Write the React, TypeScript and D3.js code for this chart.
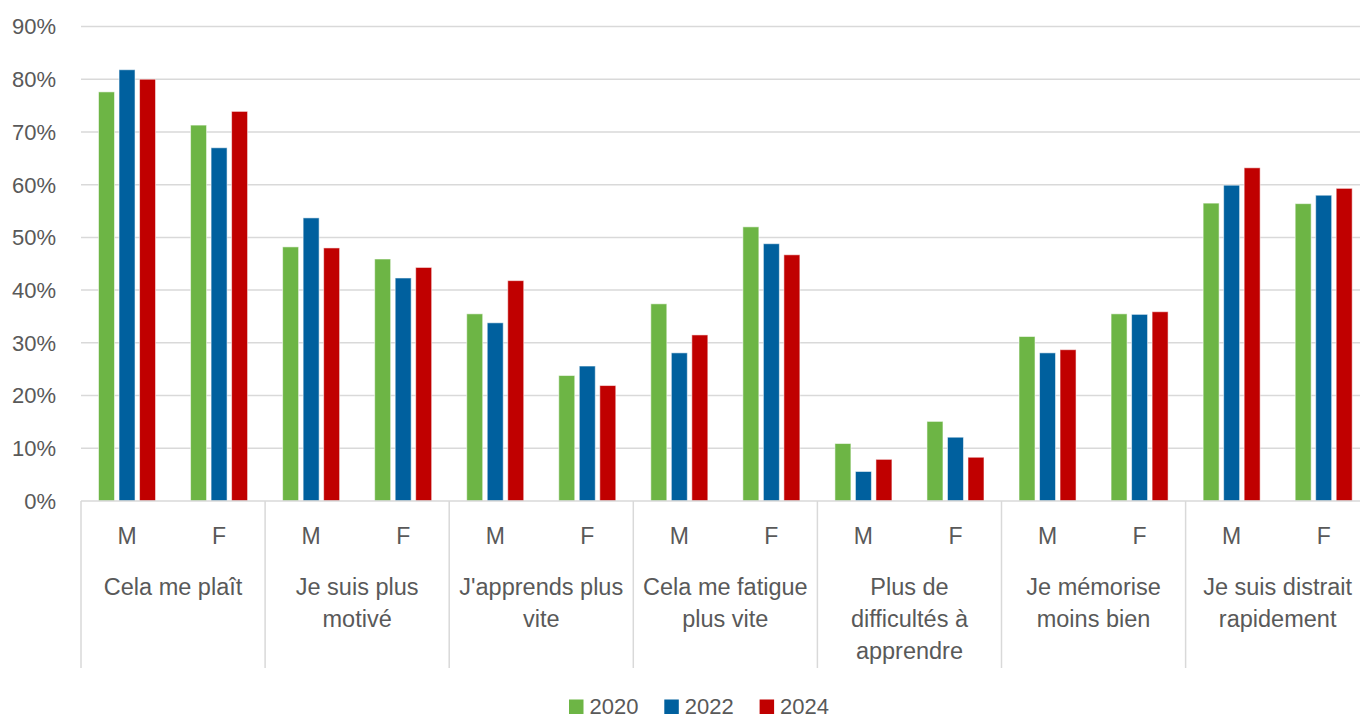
import React from "react";
import * as d3 from "d3";

const categories: string[][] = [
  ["Cela me plaît"],
  ["Je suis plus", "motivé"],
  ["J'apprends plus", "vite"],
  ["Cela me fatigue", "plus vite"],
  ["Plus de", "difficultés à", "apprendre"],
  ["Je mémorise", "moins bien"],
  ["Je suis distrait", "rapidement"],
];
const sexes = ["M", "F"];
const years = ["2020", "2022", "2024"];
const colors = ["#6DB545", "#00609E", "#C00000"];

// values per category, in %
const values2020M = [77.6, 48.2, 35.5, 37.4, 10.9, 31.2, 56.5];
const values2022M = [81.8, 53.7, 33.8, 28.1, 5.6, 28.1, 59.9];
const values2024M = [80.0, 48.0, 41.8, 31.5, 7.9, 28.7, 63.2];
const values2020F = [71.3, 45.9, 23.8, 52.0, 15.1, 35.5, 56.4];
const values2022F = [67.0, 42.3, 25.6, 48.8, 12.1, 35.4, 58.0];
const values2024F = [73.9, 44.3, 21.9, 46.7, 8.3, 35.9, 59.3];
const yTicks = [0, 10, 20, 30, 40, 50, 60, 70, 80, 90];

const seriesM = [values2020M, values2022M, values2024M];
const seriesF = [values2020F, values2022F, values2024F];

export default function App() {
  const W = 1360;
  const H = 717;
  const left = 81;
  const catW = 184.1;
  const right = left + catW * categories.length;
  const y0 = 501;
  const y90 = 26.5;

  const x0 = d3
    .scaleBand<number>()
    .domain(d3.range(categories.length))
    .range([left, right])
    .padding(0);
  const x1 = d3.scaleBand<string>().domain(sexes).range([0, x0.bandwidth()]).padding(0);
  const x2 = d3
    .scaleBand<string>()
    .domain(years)
    .range([0, x1.bandwidth()])
    .paddingInner(0.22)
    .paddingOuter(0.854);
  const y = d3.scaleLinear().domain([0, 90]).range([y0, y90]);

  const grey = "#d9d9d9";
  const txt = "#595959";

  const bars: React.ReactNode[] = [];
  categories.forEach((_, ci) => {
    sexes.forEach((s) => {
      const ser = s === "M" ? seriesM : seriesF;
      years.forEach((yr, yi) => {
        const v = ser[yi][ci];
        const bx = (x0(ci) as number) + (x1(s) as number) + (x2(yr) as number);
        bars.push(
          <rect
            key={`${ci}-${s}-${yr}`}
            x={bx}
            y={y(v)}
            width={x2.bandwidth()}
            height={y0 - y(v)}
            fill={colors[yi]}
            stroke="#ffffff"
            strokeOpacity={0.55}
            strokeWidth={1}
          />
        );
      });
    });
  });

  return (
    <svg
      width={W}
      height={H}
      style={{ position: "absolute", left: 0, top: 0, display: "block" }}
      fontFamily="'Liberation Sans', Arial, sans-serif"
    >
      <rect x={0} y={0} width={W} height={H} fill="#ffffff" />
      {yTicks.map((t) => (
        <g key={t}>
          {t > 0 && (
            <line x1={left} x2={W} y1={y(t)} y2={y(t)} stroke={grey} strokeWidth={1.5} />
          )}
          <text x={56} y={y(t)} dy="0.36em" textAnchor="end" fontSize={22} fill={txt}>
            {t}%
          </text>
        </g>
      ))}
      {bars}
      <line x1={left} x2={W} y1={y0} y2={y0} stroke={grey} strokeWidth={1.5} />
      {d3.range(categories.length + 1).map((i) => {
        const xx = left + i * x0.step();
        return (
          <line key={"sep" + i} x1={xx} x2={xx} y1={y0} y2={668} stroke={grey} strokeWidth={1.5} />
        );
      })}
      {categories.map((lines, ci) => (
        <g key={"cl" + ci}>
          {sexes.map((s) => (
            <text
              key={s}
              x={(x0(ci) as number) + (x1(s) as number) + x1.bandwidth() / 2}
              y={544}
              textAnchor="middle"
              fontSize={23}
              fill={txt}
            >
              {s}
            </text>
          ))}
          {lines.map((ln, li) => (
            <text
              key={li}
              x={(x0(ci) as number) + x0.bandwidth() / 2}
              y={595 + li * 32}
              textAnchor="middle"
              fontSize={23.5}
              fill={txt}
            >
              {ln}
            </text>
          ))}
        </g>
      ))}
      {years.map((yr, i) => {
        const lx = 569 + i * 95.3;
        return (
          <g key={"lg" + yr}>
            <rect x={lx} y={699.5} width={14.5} height={14.5} fill={colors[i]} />
            <text x={lx + 20.5} y={713.5} fontSize={22} fill={txt}>
              {yr}
            </text>
          </g>
        );
      })}
    </svg>
  );
}
